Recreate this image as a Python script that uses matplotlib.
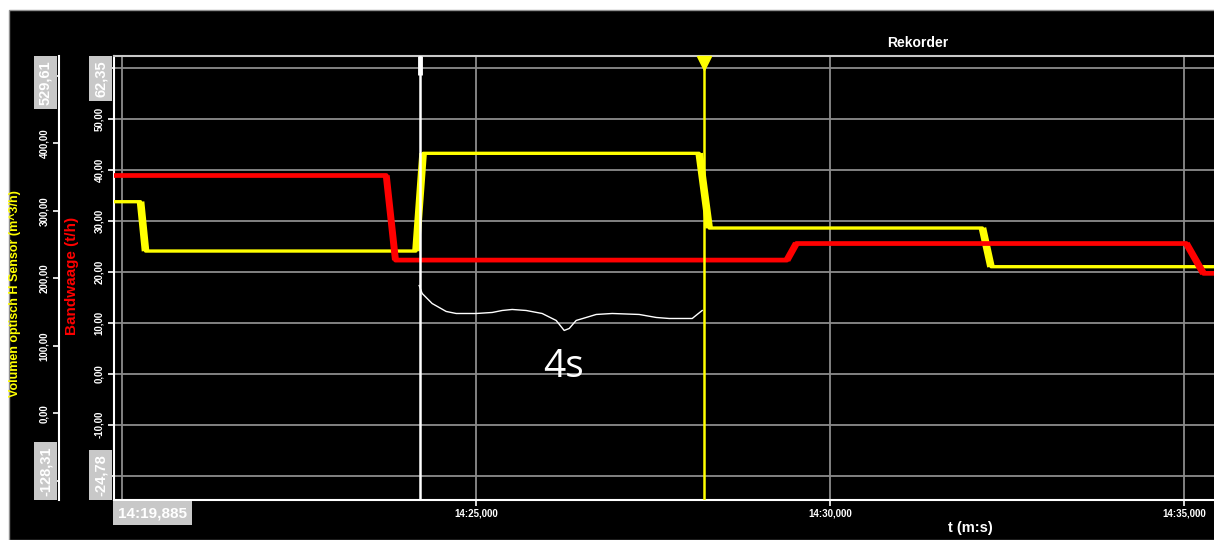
import numpy as np
import matplotlib.pyplot as plt
from matplotlib.ticker import FuncFormatter
from matplotlib.patches import Rectangle

W, H = 1214, 540

def fx(x):
  return x / W

def fy(y):
  return 1 - y / H

MINUTE = 14
t_lim = (19.885, 35.42)
vol_lim = (-128.31, 529.61)     # Volumen optisch H Sensor (m^3/h)
band_lim = (-24.78, 62.35)      # Bandwaage (t/h)
t_ticks = [20, 25, 30, 35]
vol_ticks = np.arange(-100, 501, 100)
band_ticks = np.arange(-20, 61, 10)

# Bandwaage (t/h)
red_t = [19.885, 23.73, 23.86, 29.39, 29.52, 35.03, 35.27, 35.42]
red_v = [38.9, 38.9, 22.3, 22.3, 25.55, 25.55, 19.7, 19.7]

# Volumen optisch H Sensor (m^3/h)
yel_t = [19.885, 20.26, 20.33, 24.15, 24.25, 28.15, 28.29, 32.15, 32.27, 35.42]
yel_v = [313.7, 313.7, 240.6, 240.6, 385.4, 385.4, 274.7, 274.7, 217.4, 217.4]

# cursors
cursor_t = [24.21, 28.22]
cursor_c = ['white', '#ffff00']

# hand drawn brace between the cursors (on the t/h scale)
brace_t = [24.195, 24.237, 24.378, 24.576, 24.718, 25.0, 25.226, 25.367, 25.508,
           25.706, 25.932, 26.130, 26.243, 26.314, 26.412, 26.554, 26.695, 26.921,
           27.302, 27.542, 27.726, 28.051, 28.121, 28.192]
brace_v = [17.31, 15.75, 13.78, 12.22, 11.82, 11.82, 12.02, 12.41, 12.61,
           12.41, 11.82, 10.45, 8.49, 8.88, 10.45, 11.04, 11.63, 11.82,
           11.63, 11.04, 10.84, 10.84, 11.63, 12.41]

def comma(v, p=None):
  return f"{v:.2f}".replace('.', ',')

def mmss(t, p=None):
  return f"{MINUTE}:{t:06.3f}".replace('.', ',')

def inner_labels(ticks, lim):
  # labels under the limit boxes are not shown
  return [comma(v) if lim[0] + 0.1 * (lim[1] - lim[0]) < v < lim[1] - 0.1 * (lim[1] - lim[0]) else ''
          for v in ticks]

plt.rcParams['font.family'] = ['Liberation Sans', 'DejaVu Sans']
plt.rcParams['font.weight'] = 'bold'

fig = plt.figure(figsize=(12.14, 5.40), dpi=100, facecolor='white')
fig.patches.append(Rectangle((fx(9), 0), 1, fy(10), transform=fig.transFigure,
                             facecolor='black', edgecolor='#909090', lw=1, zorder=-5))

# main axis: Bandwaage scale + grid
ax = fig.add_axes([fx(114), fy(500), 1100 / W, 444 / H])
ax.set_facecolor('black')
ax.set_xlim(t_lim)
ax.set_ylim(band_lim)
ax.set_xticks(t_ticks)
ax.set_xticklabels([''] + [mmss(t) for t in t_ticks[1:]])
ax.set_yticks(band_ticks)
ax.set_yticklabels(inner_labels(band_ticks, band_lim))
ax.grid(True, color='#8c8c8c', lw=1.3)
ax.set_axisbelow(True)
for s in ['left', 'bottom']:
  ax.spines[s].set_color('white')
  ax.spines[s].set_linewidth(1.5)
ax.spines['top'].set_color('#c8c8c8')
ax.spines['top'].set_linewidth(1.5)
ax.spines['right'].set_visible(False)
ax.tick_params(axis='y', colors='white', labelsize=7, length=4, width=1.2, pad=3, labelrotation=90)
ax.tick_params(axis='x', colors='white', labelsize=7, length=4, width=1.2, pad=2)
for lab in ax.get_yticklabels():
  lab.set_va('center')

# volume axis, spine moved out to the left
ax2 = ax.twinx()
ax2.set_ylim(vol_lim)
ax2.yaxis.tick_left()
ax2.spines['left'].set_position(('axes', -55 / 1100))
ax2.spines['left'].set_visible(True)
ax2.spines['left'].set_color('white')
ax2.spines['left'].set_linewidth(1.5)
for s in ['right', 'top', 'bottom']:
  ax2.spines[s].set_visible(False)
ax2.set_yticks(vol_ticks)
ax2.set_yticklabels(inner_labels(vol_ticks, vol_lim))
ax2.tick_params(axis='y', colors='white', labelsize=7, length=4, width=1.2, pad=3, labelrotation=90)
for lab in ax2.get_yticklabels():
  lab.set_va('center')

ax2.plot(yel_t, yel_v, color='#ffff00', lw=2.4, solid_capstyle='butt')
for i in range(len(yel_t) - 1):
  if yel_v[i] != yel_v[i + 1]:
    ax2.plot(yel_t[i:i + 2], yel_v[i:i + 2], color='#ffff00', lw=5.5, solid_capstyle='butt')

# top layer on the t/h scale: red trace, cursors, brace
ax3 = ax.twinx()
ax3.set_ylim(band_lim)
ax3.axis('off')
ax3.plot(red_t, red_v, color='#ff0000', lw=3.4, solid_capstyle='butt')
for i in range(len(red_t) - 1):
  if red_v[i] != red_v[i + 1]:
    ax3.plot(red_t[i:i + 2], red_v[i:i + 2], color='#ff0000', lw=5, solid_capstyle='butt')

tr = ax3.get_xaxis_transform()
for t, c in zip(cursor_t, cursor_c):
  ax3.axvline(t, color=c, lw=1.8)
ax3.plot([cursor_t[0]] * 2, [1, 1 - 0.043], transform=tr, color='white', lw=3.5,
         solid_capstyle='butt', clip_on=False)
ax3.plot(cursor_t[1], 1 - 0.016, marker='v', ms=10, color='#ffff00', transform=tr, clip_on=False)

ax3.plot(brace_t, brace_v, color='white', lw=1)
ax3.text(26.24, 1.24, '4s', fontsize=28, family='Open Sans', weight='normal',
         ha='center', va='center', color='white')

# labels
fig.text(fx(15), fy(294), 'Volumen optisch H Sensor (m^3/h)', rotation=90,
         color='#ffff00', fontsize=9, ha='center', va='center')
fig.text(fx(72), fy(276), 'Bandwaage (t/h)', rotation=90,
         color='#ff0000', fontsize=11, ha='center', va='center')
fig.text(fx(918), fy(43), 'Rekorder', color='white', fontsize=10, ha='center', va='center')
fig.text(fx(970), fy(528), 't (m:s)', color='white', fontsize=10.5, ha='center', va='center')

box = dict(boxstyle='square,pad=0.3', facecolor='#c8c8c8', edgecolor='none')
fig.text(fx(45.5), fy(60), comma(vol_lim[1]), rotation=90, ha='center', va='top',
         fontsize=10.5, color='white', bbox=box)
fig.text(fx(100.5), fy(60), comma(band_lim[1]), rotation=90, ha='center', va='top',
         fontsize=10.5, color='white', bbox=box)
fig.text(fx(45.5), fy(496), comma(vol_lim[0]), rotation=90, ha='center', va='bottom',
         fontsize=10.5, color='white', bbox=box)
fig.text(fx(100.5), fy(496), comma(band_lim[0]), rotation=90, ha='center', va='bottom',
         fontsize=10.5, color='white', bbox=box)
fig.text(fx(118), fy(513), mmss(t_lim[0]), ha='left', va='center',
         fontsize=11, color='white', bbox=box)

fig.savefig('out.png', dpi=100, facecolor=fig.get_facecolor())
